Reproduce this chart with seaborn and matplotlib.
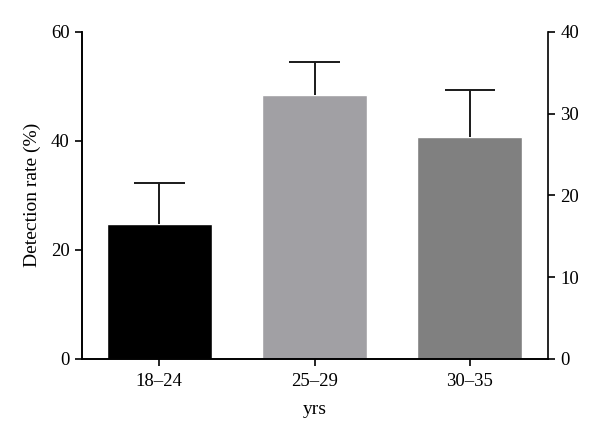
import seaborn as sns
import matplotlib.pyplot as plt
import numpy as np
import pandas as pd

groups = ['18\u201324', '25\u201329', '30\u201335']
rates = [24.8, 48.5, 40.7]
err_up = [7.5, 5.9, 8.7]
bar_colors = ['#000000', '#a1a0a4', '#808080']

sns.set_style('ticks')
plt.rcParams['font.family'] = ['Liberation Serif', 'DejaVu Serif']
plt.rcParams['text.color'] = 'black'
plt.rcParams['axes.labelcolor'] = 'black'
plt.rcParams['xtick.color'] = 'black'
plt.rcParams['ytick.color'] = 'black'
plt.rcParams['axes.edgecolor'] = 'black'

df = pd.DataFrame({'group': groups, 'rate': rates})

fig, ax = plt.subplots(figsize=(6, 4.36), dpi=100)
fig.subplots_adjust(left=0.136, right=0.914, top=0.927, bottom=0.177)

sns.barplot(data=df, x='group', y='rate', hue='group', palette=bar_colors,
            width=0.675, errorbar=None, legend=False, saturation=1, ax=ax)

# upper error bars only (no cap at the bar top)
x = np.arange(len(groups))
tops = np.array(rates) + np.array(err_up)
ax.vlines(x, rates, tops, color='#1a1a1a', lw=1.4)
ax.hlines(tops, x - 0.163, x + 0.163, color='#1a1a1a', lw=1.4)

ax.set_xlim(-0.5, 2.506)
ax.set_ylim(0, 60)
ax.set_yticks([0, 20, 40, 60])
ax.set_xlabel('yrs', fontsize=14, labelpad=8)
ax.set_ylabel('Detection rate (%)', fontsize=14, labelpad=7)
ax.tick_params(labelsize=13.5, width=1.2, length=5)
ax.tick_params(axis='x', pad=5)

ax2 = ax.twinx()
ax2.set_ylim(0, 40)
ax2.set_yticks([0, 10, 20, 30, 40])
ax2.tick_params(labelsize=13.5, width=1.2, length=5)

for a in (ax, ax2):
    a.spines['top'].set_visible(False)
    for s in ('left', 'right', 'bottom'):
        a.spines[s].set_linewidth(1.2)
ax.spines['right'].set_visible(False)

plt.savefig('out.png', dpi=100)
